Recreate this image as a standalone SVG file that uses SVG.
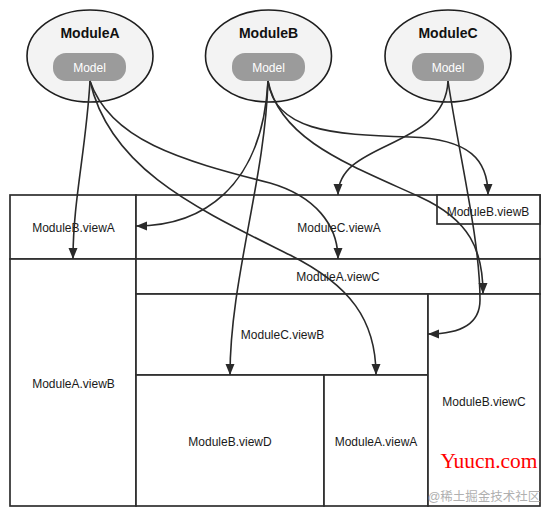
<svg xmlns="http://www.w3.org/2000/svg" width="550" height="517" viewBox="0 0 550 517">
<style>
.mod{fill:#f3f3f3;stroke:#1e1e1e;stroke-width:1.6}
.pill{fill:#9b9b9b;stroke:none}
.title{font-family:"Liberation Sans",Arial,sans-serif;font-size:14px;font-weight:bold;fill:#111;text-anchor:middle}
.ml{font-family:"Liberation Sans",Arial,sans-serif;font-size:12px;fill:#fff;text-anchor:middle}
.box{fill:#fff;stroke:#2e2e2e;stroke-width:1.7}
.lbl{font-family:"Liberation Sans",Arial,sans-serif;font-size:12px;fill:#1a1a1a;text-anchor:middle}
.edge{fill:none;stroke:#2a2a2a;stroke-width:1.6;marker-end:url(#arr)}
</style>
<defs>
<marker id="arr" markerUnits="userSpaceOnUse" markerWidth="12" markerHeight="10" refX="11" refY="4.5" orient="auto">
<path d="M0,0 L11,4.5 L0,9 z" fill="#2a2a2a"/>
</marker>
</defs>
<rect width="550" height="517" fill="#fff"/>

<g id="ModuleA">
<ellipse class="mod" cx="90" cy="56" rx="63" ry="46"/>
<text class="title" x="90" y="38">ModuleA</text>
<rect class="pill" x="53" y="53" width="73" height="28" rx="13"/>
<text class="ml" x="89.5" y="71.5">Model</text>
</g>
<g id="ModuleB">
<ellipse class="mod" cx="268.5" cy="56" rx="63" ry="46"/>
<text class="title" x="268.5" y="38">ModuleB</text>
<rect class="pill" x="232" y="53" width="73" height="28" rx="13"/>
<text class="ml" x="268.5" y="71.5">Model</text>
</g>
<g id="ModuleC">
<ellipse class="mod" cx="448" cy="56" rx="63" ry="46"/>
<text class="title" x="448" y="38">ModuleC</text>
<rect class="pill" x="412" y="53" width="72" height="28" rx="13"/>
<text class="ml" x="448" y="71.5">Model</text>
</g>

<g id="ModuleB.viewA">
<rect class="box" x="10" y="195" width="126" height="64"/>
<text class="lbl" x="73.5" y="232">ModuleB.viewA</text>
</g>
<g id="ModuleC.viewA">
<rect class="box" x="136" y="195" width="404" height="64"/>
<text class="lbl" x="339" y="232">ModuleC.viewA</text>
</g>
<g id="ModuleB.viewB">
<rect class="box" x="437" y="195" width="103" height="29"/>
<text class="lbl" x="488" y="216">ModuleB.viewB</text>
</g>
<g id="ModuleA.viewB">
<rect class="box" x="10" y="259" width="126" height="247"/>
<text class="lbl" x="73.5" y="388">ModuleA.viewB</text>
</g>
<g id="ModuleA.viewC">
<rect class="box" x="136" y="259" width="404" height="35"/>
<text class="lbl" x="338" y="281">ModuleA.viewC</text>
</g>
<g id="ModuleC.viewB">
<rect class="box" x="136" y="294" width="292" height="81"/>
<text class="lbl" x="282.5" y="339">ModuleC.viewB</text>
</g>
<g id="ModuleB.viewD">
<rect class="box" x="136" y="375" width="188" height="131"/>
<text class="lbl" x="230" y="446">ModuleB.viewD</text>
</g>
<g id="ModuleA.viewA">
<rect class="box" x="324" y="375" width="104" height="131"/>
<text class="lbl" x="376" y="446">ModuleA.viewA</text>
</g>
<g id="ModuleB.viewC">
<rect class="box" x="428" y="294" width="112" height="212"/>
<text class="lbl" x="484" y="406">ModuleB.viewC</text>
</g>

<g id="connectors">
<path class="edge" d="M90,81 C86,150 73,200 73,259"/>
<path class="edge" d="M90,81 C110,140 180,160 270,183 C315,196 338,225 338,259"/>
<path class="edge" d="M90,81 C110,170 200,210 290,255 C350,285 376,320 376,375"/>
<path class="edge" d="M268,81 C262,190 200,226 136,226"/>
<path class="edge" d="M268,81 C265,180 230,280 230,375"/>
<path class="edge" d="M268,81 C275,130 330,135 410,137 C470,139 488,160 488,195"/>
<path class="edge" d="M268,81 C280,140 350,165 420,197 C470,220 483,250 483,294"/>
<path class="edge" d="M448,81 C445,150 338,140 338,195"/>
<path class="edge" d="M448,81 C460,160 480,240 480,300 C480,325 460,334 428,334"/>
</g>

<text x="489" y="468" font-family="'Liberation Serif','Times New Roman',serif" font-size="20" fill="#ff0000" text-anchor="middle" textLength="97" lengthAdjust="spacingAndGlyphs">Yuucn.com</text>
<text x="484" y="501" font-family="'Liberation Sans','Noto Sans CJK SC',sans-serif" font-size="12.5" fill="#b0b0b0" text-anchor="middle">@稀土掘金技术社区</text>
</svg>
